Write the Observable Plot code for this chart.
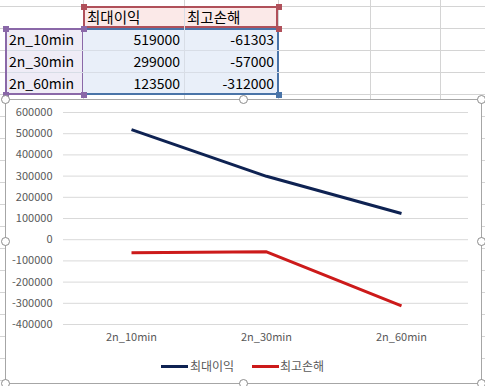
<!DOCTYPE html>
<html><head><meta charset="utf-8">
<script src="https://cdn.jsdelivr.net/npm/d3@7"></script>
<script src="https://cdn.jsdelivr.net/npm/@observablehq/plot@0.6"></script>
<style>
body{margin:0;width:485px;height:386px;overflow:hidden;background:#fff;position:relative;font-family:"Noto Sans CJK KR","Noto Sans",sans-serif;}
.abs{position:absolute;box-sizing:border-box;}
.cell{position:absolute;box-sizing:border-box;height:22px;line-height:22px;font-size:14px;color:#000;padding:0 4px;white-space:nowrap;}
.ko{font-size:14.5px;padding-left:3px;}
.hl{position:absolute;height:1px;background:#d4d4d4;}
.vl{position:absolute;width:1px;background:#d4d4d4;}
.sq{position:absolute;width:6px;height:6px;}
.handle{position:absolute;width:9px;height:9px;border-radius:50%;border:1.3px solid #8c8c8c;background:#fff;box-sizing:border-box;}
#chart{position:absolute;left:5px;top:99px;width:477px;height:285px;border:1px solid #a6a6a6;background:#fff;box-sizing:border-box;}
#plot{position:absolute;left:0;top:100px;}
#legend{position:absolute;top:357px;left:0;width:485px;height:18px;font-size:12px;color:#595959;}
#legend span{position:absolute;top:0;line-height:18px;}
</style></head><body>
<div id="sheet"></div>
<div id="chart"></div>
<div id="plot"></div>
<div id="legend"></div>
<div id="handles"></div>
<script>
const categories = ["2n_10min", "2n_30min", "2n_60min"];
const seriesNames = ["최대이익", "최고손해"];
const maxProfit = [519000, 299000, 123500];
const maxLoss = [-61303, -57000, -312000];
const yTicks = [600000, 500000, 400000, 300000, 200000, 100000, 0, -100000, -200000, -300000, -400000];
const seriesColors = ["#0e2252", "#cc1a1a"];

// ---- spreadsheet background ----
const sheet = document.getElementById("sheet");
function add(parent, cls, style, text) {
  const d = document.createElement("div");
  d.className = cls;
  Object.assign(d.style, style);
  if (text !== undefined) d.textContent = text;
  parent.appendChild(d);
  return d;
}
for (let y = 6; y < 386; y += 22) add(sheet, "hl", {left: "0px", top: y + "px", width: "485px"});
[83, 184, 278, 370, 440].forEach(x => add(sheet, "vl", {left: x + "px", top: "0px", height: "99px"}));

// fills
add(sheet, "abs", {left: "83px", top: "6px", width: "195px", height: "22px", background: "#fbe9e8", border: "2px solid #b0505a"});
add(sheet, "abs", {left: "5px", top: "28px", width: "79px", height: "67px", background: "#efecf6", border: "2px solid #8a68a8"});
add(sheet, "abs", {left: "83px", top: "28px", width: "196px", height: "67px", background: "#e9eff9", border: "2px solid #4a74a8", borderLeft: "none"});
add(sheet, "vl", {left: "184px", top: "8px", height: "85px", background: "#d8dde6"});
add(sheet, "hl", {left: "7px", top: "50px", width: "272px", background: "#d8dde6"});
add(sheet, "hl", {left: "7px", top: "72px", width: "272px", background: "#d8dde6"});

// header cells
add(sheet, "cell ko", {left: "84px", top: "6px", width: "100px"}, seriesNames[0]);
add(sheet, "cell ko", {left: "184px", top: "6px", width: "94px"}, seriesNames[1]);
categories.forEach((c, i) => {
  const top = 28 + i * 22;
  add(sheet, "cell", {left: "5px", top: top + "px", width: "78px"}, c);
  add(sheet, "cell", {left: "83px", top: top + "px", width: "101px", textAlign: "right"}, String(maxProfit[i]));
  add(sheet, "cell", {left: "184px", top: top + "px", width: "94px", textAlign: "right"}, String(maxLoss[i]));
});
// selection handles
[[81, 4, "#b0505a"], [276, 4, "#b0505a"], [276, 26, "#b0505a"],
 [3, 26, "#8a68a8"], [81, 26, "#8a68a8"], [3, 92, "#8a68a8"], [81, 92, "#8a68a8"],
 [276, 92, "#4a74a8"]].forEach(([x, y, c]) => add(sheet, "sq", {left: x + "px", top: y + "px", background: c}));

// ---- chart ----
const data = [];
categories.forEach((c, i) => {
  data.push({cat: c, value: maxProfit[i], series: seriesNames[0]});
  data.push({cat: c, value: maxLoss[i], series: seriesNames[1]});
});

const chart = Plot.plot({
  width: 485,
  height: 250,
  marginLeft: 63,
  marginRight: 17,
  marginTop: 12,
  marginBottom: 26,
  style: {fontFamily: '"Noto Sans CJK KR","Noto Sans",sans-serif', fontSize: "11px", color: "#595959", background: "transparent", overflow: "visible"},
  x: {type: "point", domain: categories, padding: 0.5, label: null},
  y: {domain: [-400000, 600000], label: null},
  color: {domain: seriesNames, range: seriesColors},
  marks: [
    Plot.ruleY(yTicks, {stroke: "#d9d9d9", strokeWidth: 1}),
    Plot.axisY({ticks: yTicks, tickSize: 0, tickPadding: 11, tickFormat: d => String(d), label: null, fill: "#595959"}),
    Plot.axisX({tickSize: 0, tickPadding: 9, label: null, fill: "#595959"}),
    Plot.lineY(data, {x: "cat", y: "value", z: "series", stroke: "series", strokeWidth: 3, strokeLinecap: "butt", strokeLinejoin: "round"})
  ]
});
document.getElementById("plot").appendChild(chart);

// legend
const legend = document.getElementById("legend");
const legPos = [[161, 190], [252, 280]];
seriesNames.forEach((s, i) => {
  add(legend, "", {position: "absolute", left: legPos[i][0] + "px", width: "27px", top: "8px", height: "3px", background: seriesColors[i]});
  const t = document.createElement("span");
  t.style.left = legPos[i][1] + "px";
  t.textContent = s;
  legend.appendChild(t);
});

// chart handles
const handles = document.getElementById("handles");
[[5, 99], [243, 99], [481, 99], [5, 241], [481, 241], [5, 383], [243, 383], [481, 383]]
  .forEach(([x, y]) => add(handles, "handle", {left: (x - 4.5) + "px", top: (y - 4.5) + "px"}));
</script>
</body></html>
